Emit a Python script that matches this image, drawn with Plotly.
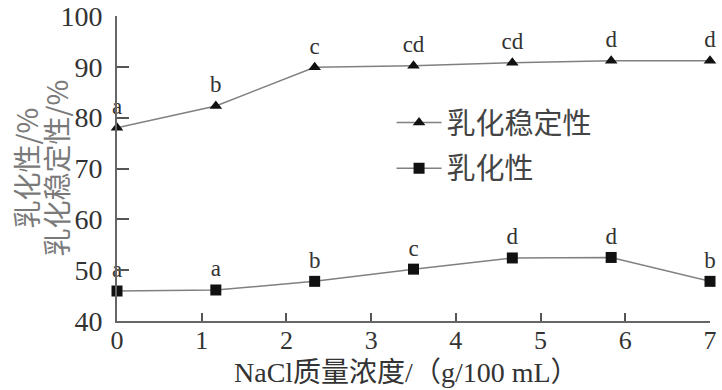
import plotly.graph_objects as go

x_vals = [0, 7/6, 14/6, 3.5, 28/6, 35/6, 7]
stability = [78.0, 82.3, 89.9, 90.2, 90.8, 91.2, 91.2]
stability_labels = ["a", "b", "c", "cd", "cd", "d", "d"]
emulsify = [45.9, 46.1, 47.8, 50.2, 52.4, 52.5, 47.8]
emulsify_labels = ["a", "a", "b", "c", "d", "d", "b"]
x_ticks = [0, 1, 2, 3, 4, 5, 6, 7]
y_ticks = [40, 50, 60, 70, 80, 90, 100]
y_title_lines = ["乳化性/%", "乳化稳定性/%"]
x_title = "NaCl质量浓度/（g/100 mL）"

serif = "Liberation Serif, Noto Sans CJK SC"
cjk = "Noto Sans CJK SC, Liberation Serif"

fig = go.Figure()
fig.add_trace(go.Scatter(
    x=x_vals, y=stability, name="乳化稳定性", mode="lines+markers+text",
    text=stability_labels, textposition="top center",
    textfont=dict(family=serif, size=23, color="#333"),
    line=dict(color="#808080", width=1.5),
    marker=dict(symbol="triangle-up", size=11, color="#111"),
    cliponaxis=False, legendgroup="a"))
fig.add_trace(go.Scatter(
    x=x_vals, y=emulsify, name="乳化性", mode="lines+markers+text",
    text=emulsify_labels, textposition="top center",
    textfont=dict(family=serif, size=23, color="#333"),
    line=dict(color="#808080", width=1.5),
    marker=dict(symbol="square", size=11, color="#111"),
    cliponaxis=False, legendgroup="b"))

W, H = 722, 390
L, R, T, B = 117, 12, 16, 69
pw = W - L - R
ph = H - T - B

for txt, px in zip(y_title_lines, [25, 55]):
    fig.add_annotation(text=txt, xref="paper", yref="paper",
                       x=(px - L) / pw, y=0.5, xanchor="center", yanchor="middle",
                       textangle=-90, showarrow=False,
                       font=dict(family=cjk, size=28, color="#7a7a7a"))

fig.add_annotation(text=x_title, xref="paper", yref="paper",
                   x=(406 - L) / pw, y=(H - B - 372) / ph,
                   xanchor="center", yanchor="middle", showarrow=False,
                   borderpad=0,
                   font=dict(family=serif, size=28, color="#333"))

fig.update_layout(
    width=W, height=H,
    margin=dict(l=L, r=R, t=T, b=B),
    plot_bgcolor="white", paper_bgcolor="white",
    showlegend=True,
    legend=dict(x=0.463, y=0.734, xanchor="left", yanchor="top",
                font=dict(family=cjk, size=29, color="#444"),
                bgcolor="rgba(0,0,0,0)", tracegroupgap=5,
                traceorder="grouped", itemwidth=45),
    xaxis=dict(range=[0, 7], tickvals=x_ticks, ticks="inside", ticklen=8,
               tickwidth=1.5, tickcolor="#555", showline=True, linecolor="#666",
               linewidth=2, showgrid=False, zeroline=False, automargin=False,
               ticklabelstandoff=-5,
               tickfont=dict(family=serif, size=26, color="#333")),
    yaxis=dict(range=[40, 100], tickvals=y_ticks, ticks="inside", ticklen=12,
               tickwidth=1.5, tickcolor="#555", showline=True, linecolor="#666",
               linewidth=2, showgrid=False, zeroline=False, automargin=False,
               ticklabelstandoff=7,
               tickfont=dict(family=serif, size=28, color="#333")),
)

fig.write_html("out.html", config={"displayModeBar": False},
               post_script="document.body.style.margin='0';document.body.style.overflow='hidden';")
